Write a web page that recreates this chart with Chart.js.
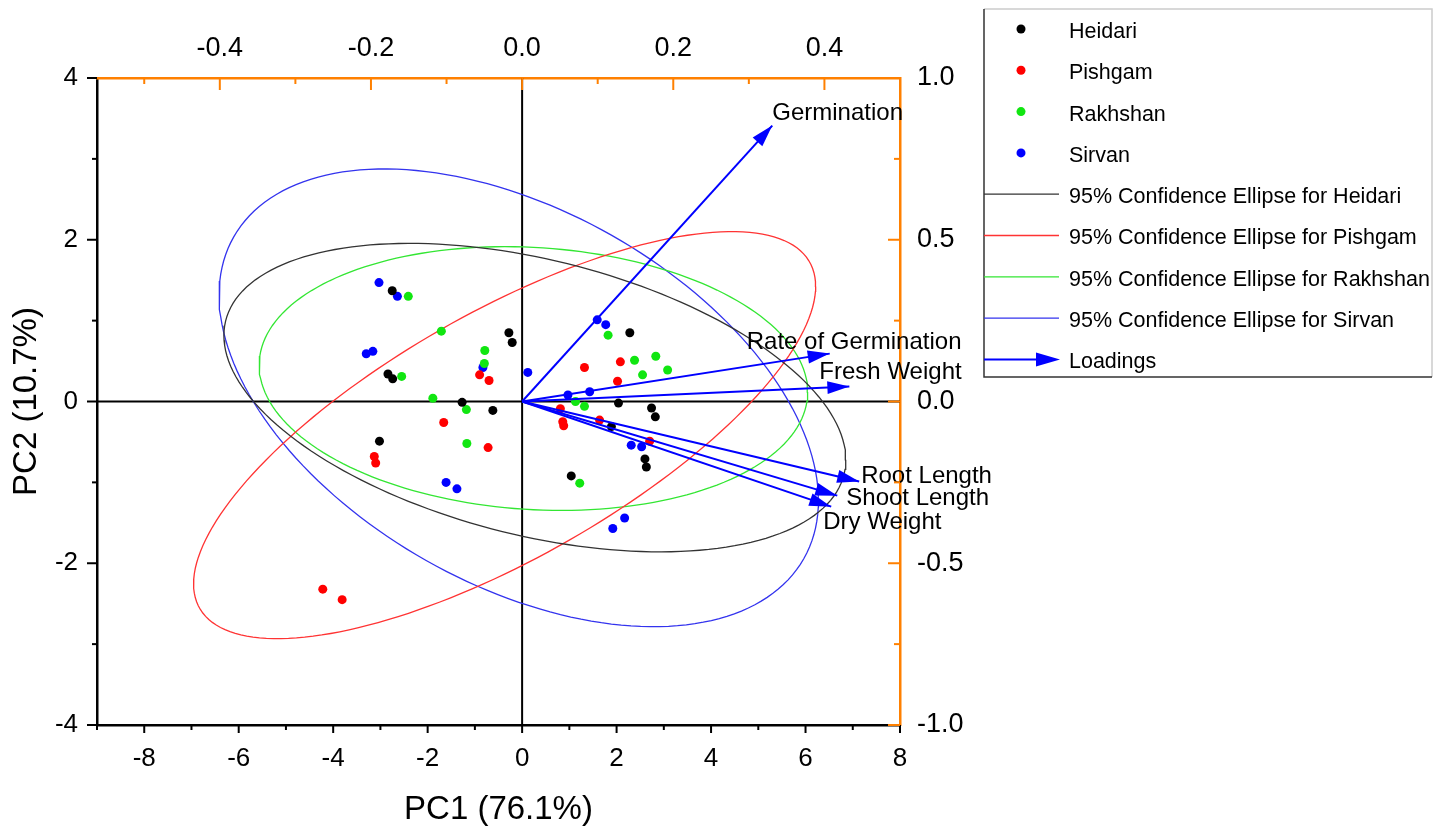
<!DOCTYPE html>
<html>
<head>
<meta charset="utf-8">
<script src="https://cdn.jsdelivr.net/npm/chart.js@4.4.1/dist/chart.umd.min.js"></script>
<style>
  body { margin: 0; background: #fff; }
  #wrap { width: 1446px; height: 826px; position: relative; }
</style>
</head>
<body>
<div id="wrap"><canvas id="pcaChart"></canvas></div>
<script>
// groups
var groups = ["Heidari", "Pishgam", "Rakhshan", "Sirvan"];
var dotColors = ["#000000", "#ff0000", "#11e611", "#0000ff"];
var ellipseColors = ["#333333", "#ff3333", "#33e633", "#3333ee"];

// scores (PC1, PC2)
var pc1Heidari = [-2.75, -2.84, -2.74, -0.28, -0.21, -1.27, -0.62, -3.02, 2.28, 2.04, 2.74, 2.82, 1.89, 2.60, 2.63, 1.04];
var pc2Heidari = [1.37, 0.34, 0.28, 0.85, 0.73, -0.01, -0.11, -0.49, 0.85, -0.02, -0.08, -0.19, -0.31, -0.71, -0.81, -0.92];
var pc1Pishgam = [-0.90, -0.70, -1.66, -0.72, -3.13, -3.10, 1.32, 2.08, 2.02, 0.81, 0.86, 0.88, 1.64, 2.70, -4.22, -3.81];
var pc2Pishgam = [0.33, 0.26, -0.26, -0.57, -0.68, -0.76, 0.42, 0.49, 0.25, -0.09, -0.25, -0.30, -0.23, -0.49, -2.32, -2.45];
var pc1Rakhshan = [-2.41, -1.71, -2.55, -0.79, -0.80, -1.89, -1.18, -1.17, 1.82, 2.38, 2.83, 2.55, 3.08, 1.13, 1.32, 1.22];
var pc2Rakhshan = [1.30, 0.87, 0.31, 0.63, 0.47, 0.04, -0.10, -0.52, 0.82, 0.51, 0.56, 0.33, 0.39, 0.00, -0.06, -1.01];
var pc1Sirvan = [-3.03, -2.64, -3.30, -3.16, -0.83, 0.12, -1.61, -1.38, 1.59, 1.77, 0.97, 1.43, 2.31, 2.53, 2.17, 1.92];
var pc2Sirvan = [1.47, 1.30, 0.59, 0.62, 0.42, 0.36, -1.00, -1.08, 1.01, 0.95, 0.08, 0.12, -0.54, -0.56, -1.44, -1.57];

// loadings
var variables = ["Germination", "Rate of Germination", "Fresh Weight", "Root Length", "Shoot Length", "Dry Weight"];
var loadPC1 = [0.331, 0.407, 0.433, 0.446, 0.417, 0.409];
var loadPC2 = [0.853, 0.148, 0.046, -0.247, -0.291, -0.325];

// tick values
var pc1Ticks = [-9, -8, -7, -6, -5, -4, -3, -2, -1, 0, 1, 2, 3, 4, 5, 6, 7, 8];
var pc2Ticks = [-4, -3, -2, -1, 0, 1, 2, 3, 4];
var loadTopTicks = [-0.5, -0.4, -0.3, -0.2, -0.1, 0, 0.1, 0.2, 0.3, 0.4, 0.5];
var loadRightTicks = [-1, -0.75, -0.5, -0.25, 0, 0.25, 0.5, 0.75, 1];

var scoresX = [pc1Heidari, pc1Pishgam, pc1Rakhshan, pc1Sirvan];
var scoresY = [pc2Heidari, pc2Pishgam, pc2Rakhshan, pc2Sirvan];

var ORANGE = "#ff8000";
var FONT = "'Liberation Sans', Arial, sans-serif";
Chart.defaults.font.family = FONT;
Chart.defaults.color = "#000";

// 95% confidence (prediction) ellipse like Origin
function confEllipse(xs, ys) {
    var n = xs.length, mx = 0, my = 0;
    for (var i = 0; i < n; i++) { mx += xs[i]; my += ys[i]; }
    mx /= n; my /= n;
    var sxx = 0, syy = 0, sxy = 0;
    for (var i = 0; i < n; i++) {
        sxx += (xs[i] - mx) * (xs[i] - mx);
        syy += (ys[i] - my) * (ys[i] - my);
        sxy += (xs[i] - mx) * (ys[i] - my);
    }
    sxx /= n - 1; syy /= n - 1; sxy /= n - 1;
    var d = n - 2;
    var F = d / 2 * (Math.pow(0.05, -2 / d) - 1);
    var k = Math.sqrt(2 * (n - 1) / d * F * (n + 1) / n);
    var a = Math.sqrt(sxx), b = sxy / a, c = Math.sqrt(syy - b * b);
    var pts = [];
    for (var j = 0; j <= 180; j++) {
        var t = j / 180 * 2 * Math.PI;
        pts.push({ x: mx + k * a * Math.cos(t), y: my + k * (b * Math.cos(t) + c * Math.sin(t)) });
    }
    return pts;
}

var datasets = [];
variables.forEach(function (v, i) {
    datasets.push({
        type: 'line', label: v, xAxisID: 'x2', yAxisID: 'y2',
        data: [{ x: 0, y: 0 }, { x: loadPC1[i], y: loadPC2[i] }],
        borderColor: '#0000ff', borderWidth: 2, pointRadius: 0, showLine: true, order: 0
    });
});
groups.forEach(function (g, i) {
    datasets.push({
        label: g, xAxisID: 'x', yAxisID: 'y',
        data: scoresX[i].map(function (x, j) { return { x: x, y: scoresY[i][j] }; }),
        backgroundColor: dotColors[i], borderWidth: 0, pointRadius: 4.5, order: 1
    });
});
groups.forEach(function (g, i) {
    datasets.push({
        type: 'line', label: '95% Confidence Ellipse for ' + g, xAxisID: 'x', yAxisID: 'y',
        data: confEllipse(scoresX[i], scoresY[i]),
        borderColor: ellipseColors[i], borderWidth: 1.3, pointRadius: 0, showLine: true, tension: 0, order: 2
    });
});

function setTicks(list) {
    return function (s) { s.ticks = list.map(function (v) { return { value: v }; }); };
}

// label offsets from arrow tips (px)
var labelOffsets = [[0, -12], [-83, -11], [-30, -14], [2, -5], [9, 3], [-8, 16]];

var biplotExtras = {
    id: 'biplotExtras',
    beforeDatasetsDraw: function (chart) {
        var ctx = chart.ctx, a = chart.chartArea, sx = chart.scales.x, sy = chart.scales.y;
        ctx.save();
        ctx.strokeStyle = '#000';
        ctx.lineWidth = 2;
        ctx.beginPath();
        ctx.moveTo(sx.getPixelForValue(0), a.top);
        ctx.lineTo(sx.getPixelForValue(0), a.bottom);
        ctx.moveTo(a.left, sy.getPixelForValue(0));
        ctx.lineTo(a.right, sy.getPixelForValue(0));
        ctx.stroke();
        ctx.restore();
    },
    afterDatasetsDraw: function (chart) {
        var ctx = chart.ctx, x2 = chart.scales.x2, y2 = chart.scales.y2;
        ctx.save();
        var ox = x2.getPixelForValue(0), oy = y2.getPixelForValue(0);
        variables.forEach(function (v, i) {
            var tx = x2.getPixelForValue(loadPC1[i]), ty = y2.getPixelForValue(loadPC2[i]);
            var ang = Math.atan2(ty - oy, tx - ox);
            var L = 22, W = 6.5;
            ctx.fillStyle = '#0000ff';
            ctx.beginPath();
            ctx.moveTo(tx, ty);
            ctx.lineTo(tx - L * Math.cos(ang) - W * Math.sin(ang), ty - L * Math.sin(ang) + W * Math.cos(ang));
            ctx.lineTo(tx - L * Math.cos(ang) + W * Math.sin(ang), ty - L * Math.sin(ang) - W * Math.cos(ang));
            ctx.closePath();
            ctx.fill();
            ctx.fillStyle = '#000';
            ctx.font = '24px ' + FONT;
            ctx.textAlign = 'left';
            ctx.textBaseline = 'middle';
            ctx.fillText(v, tx + labelOffsets[i][0], ty + labelOffsets[i][1]);
        });
        ctx.restore();
    },
    afterDraw: function (chart) {
        var ctx = chart.ctx, a = chart.chartArea, s = chart.scales;
        ctx.save();
        ctx.lineWidth = 2;
        // tick marks
        ctx.strokeStyle = '#000';
        s.x.ticks.forEach(function (t) {
            var p = s.x.getPixelForValue(t.value), len = t.value % 2 === 0 ? 8 : 5;
            ctx.beginPath(); ctx.moveTo(p, a.bottom); ctx.lineTo(p, a.bottom + len); ctx.stroke();
        });
        s.y.ticks.forEach(function (t) {
            var p = s.y.getPixelForValue(t.value), len = t.value % 2 === 0 ? 10 : 5;
            ctx.beginPath(); ctx.moveTo(a.left, p); ctx.lineTo(a.left - len, p); ctx.stroke();
        });
        ctx.strokeStyle = ORANGE;
        s.x2.ticks.forEach(function (t) {
            var p = s.x2.getPixelForValue(t.value), len = Math.round(t.value * 10) % 2 === 0 ? 12 : 6;
            ctx.beginPath(); ctx.moveTo(p, a.top); ctx.lineTo(p, a.top + len); ctx.stroke();
        });
        s.y2.ticks.forEach(function (t) {
            var p = s.y2.getPixelForValue(t.value), len = Math.round(t.value * 4) % 2 === 0 ? 12 : 6;
            ctx.beginPath(); ctx.moveTo(a.right, p); ctx.lineTo(a.right - len, p); ctx.stroke();
        });

        // legend box
        var lx = 984, ly = 9, lw = 448, lh = 368;
        ctx.lineWidth = 1.5;
        ctx.strokeStyle = '#cccccc';
        ctx.beginPath(); ctx.moveTo(lx, ly); ctx.lineTo(lx + lw, ly); ctx.lineTo(lx + lw, ly + lh); ctx.stroke();
        ctx.strokeStyle = '#333333';
        ctx.beginPath(); ctx.moveTo(lx, ly); ctx.lineTo(lx, ly + lh); ctx.lineTo(lx + lw, ly + lh); ctx.stroke();
        ctx.font = '21.5px ' + FONT;
        ctx.textAlign = 'left';
        ctx.textBaseline = 'middle';
        var rowH = 41.3, y0 = 32;
        groups.forEach(function (g, i) {
            var yy = y0 + i * rowH;
            ctx.fillStyle = dotColors[i];
            ctx.beginPath(); ctx.arc(1021, yy - 3, 4.5, 0, 2 * Math.PI); ctx.fill();
            ctx.fillStyle = '#000';
            ctx.fillText(g, 1069, yy);
        });
        groups.forEach(function (g, i) {
            var yy = y0 + (i + 4) * rowH;
            ctx.strokeStyle = ellipseColors[i];
            ctx.lineWidth = 1.3;
            ctx.beginPath(); ctx.moveTo(984, yy - 3); ctx.lineTo(1059, yy - 3); ctx.stroke();
            ctx.fillStyle = '#000';
            ctx.fillText('95% Confidence Ellipse for ' + g, 1069, yy);
        });
        var yl = y0 + 8 * rowH;
        ctx.strokeStyle = '#0000ff';
        ctx.fillStyle = '#0000ff';
        ctx.lineWidth = 2;
        ctx.beginPath(); ctx.moveTo(984, yl - 3); ctx.lineTo(1040, yl - 3); ctx.stroke();
        ctx.beginPath(); ctx.moveTo(1060, yl - 3); ctx.lineTo(1036, yl - 10); ctx.lineTo(1036, yl + 4); ctx.closePath(); ctx.fill();
        ctx.fillStyle = '#000';
        ctx.fillText('Loadings', 1069, yl);
        ctx.restore();
    }
};

var ctxP = document.getElementById("pcaChart").getContext('2d');
var pcaChart = new Chart(ctxP, {
    type: 'scatter',
    data: { datasets: datasets },
    options: {
        responsive: true,
        maintainAspectRatio: false,
        animation: false,
        layout: { padding: { left: 0, top: 0, right: 446, bottom: 0 } },
        plugins: { legend: { display: false }, tooltip: { enabled: false } },
        scales: {
            x: {
                type: 'linear', position: 'bottom', min: -9, max: 8,
                afterBuildTicks: setTicks(pc1Ticks),
                afterFit: function (s) { s.height = 101; },
                grid: { display: false, drawTicks: false },
                border: { display: true, color: '#000', width: 2.5 },
                ticks: {
                    autoSkip: false, maxRotation: 0, padding: 18, font: { size: 26 },
                    callback: function (v) { return v % 2 === 0 ? String(v) : ''; }
                },
                title: { display: true, text: 'PC1 (76.1%)', font: { size: 33, lineHeight: 1 }, padding: { top: 0, bottom: 0 } }
            },
            y: {
                type: 'linear', position: 'left', min: -4, max: 4,
                afterBuildTicks: setTicks(pc2Ticks),
                afterFit: function (s) { s.width = 97; },
                grid: { display: false, drawTicks: false },
                border: { display: true, color: '#000', width: 2.5 },
                ticks: {
                    autoSkip: false, padding: 19, font: { size: 26 },
                    callback: function (v) { return v % 2 === 0 ? String(v) : ''; }
                },
                title: { display: true, text: 'PC2 (10.7%)', font: { size: 33, lineHeight: 1 }, padding: { top: 10, bottom: 0 } }
            },
            x2: {
                type: 'linear', position: 'top', min: -0.5625, max: 0.5,
                afterBuildTicks: setTicks(loadTopTicks),
                afterFit: function (s) { s.height = 78; },
                grid: { display: false, drawTicks: false },
                border: { display: true, color: ORANGE, width: 2.5 },
                ticks: {
                    autoSkip: false, maxRotation: 0, padding: 13, font: { size: 27 },
                    callback: function (v) { return Math.round(v * 10) % 2 === 0 && Math.abs(v) < 0.45 ? v.toFixed(1) : ''; }
                }
            },
            y2: {
                type: 'linear', position: 'right', min: -1, max: 1,
                afterBuildTicks: setTicks(loadRightTicks),
                afterFit: function (s) { s.width = 100; },
                grid: { display: false, drawTicks: false },
                border: { display: true, color: ORANGE, width: 2.5 },
                ticks: {
                    autoSkip: false, padding: 17, font: { size: 27 },
                    callback: function (v) { return Math.round(v * 4) % 2 === 0 ? v.toFixed(1) : ''; }
                }
            }
        }
    },
    plugins: [biplotExtras]
});
</script>
</body>
</html>
